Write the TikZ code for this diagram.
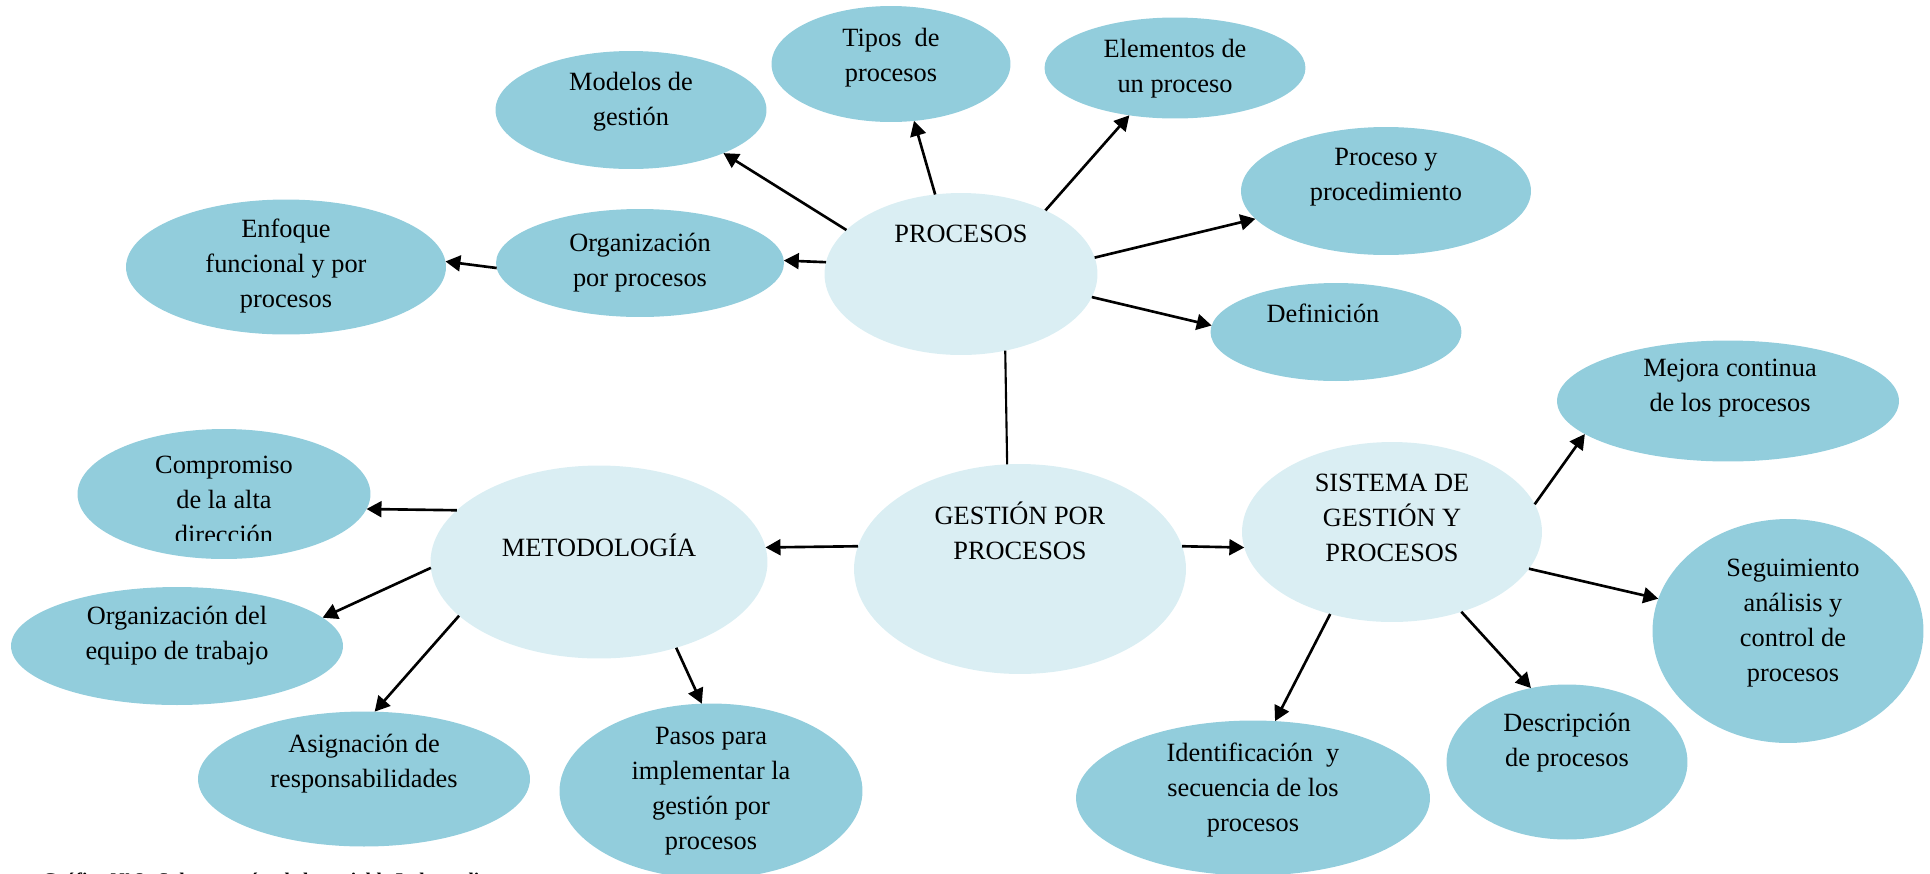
\documentclass[tikz,border=0pt]{standalone}
\usepackage{fontspec}
\setmainfont{Liberation Serif}
\usetikzlibrary{shapes.geometric, arrows.meta}
\definecolor{aqua}{HTML}{92CDDC}
\definecolor{paleaqua}{HTML}{DAEEF3}
\tikzset{
	bubble/.style={ellipse, fill=aqua, inner sep=0pt, outer sep=0pt},
	core/.style={ellipse, fill=paleaqua, inner sep=0pt, outer sep=0pt},
	txt/.style={align=center, inner sep=0pt, font=\fontsize{15}{20}\selectfont},
	link/.style={-{Triangle[length=8.5pt,width=9pt]}, line width=1.5pt}
}
\begin{document}
\begin{tikzpicture}[x=0.02cm, y=-0.02cm]
		\useasboundingbox (0,0) rectangle (1930,873);
		\node[bubble, minimum width=5.42cm, minimum height=2.36cm] (mod) at (631,110) {};
		\node[txt] (mod-t) at (631,102) {Modelos de\\gestión};
		\node[bubble, minimum width=4.78cm, minimum height=2.32cm] (tipos) at (891,64) {};
		\node[txt] (tipos-t) at (891,58) {Tipos\ \ de\\procesos};
		\node[bubble, minimum width=5.22cm, minimum height=2.02cm] (elem) at (1175,68) {};
		\node[txt] (elem-t) at (1175,69) {Elementos de\\un proceso};
		\node[bubble, minimum width=5.80cm, minimum height=2.56cm] (pyp) at (1386,191) {};
		\node[txt] (pyp-t) at (1386,177) {Proceso y\\procedimiento};
		\node[bubble, minimum width=5.02cm, minimum height=1.96cm] (def) at (1336,332) {};
		\node[txt] (def-t) at (1323,313) {Definición};
		\node[core, minimum width=5.46cm, minimum height=3.24cm] (proc) at (961,274) {};
		\node[txt] (proc-t) at (961,234) {PROCESOS};
		\node[bubble, minimum width=5.76cm, minimum height=2.16cm] (orgp) at (640,263) {};
		\node[txt] (orgp-t) at (640,263) {Organización\\por procesos};
		\node[bubble, minimum width=6.40cm, minimum height=2.70cm] (enf) at (286,267) {};
		\node[txt] (enf-t) at (286,266) {Enfoque\\funcional y por\\procesos};
		\node[core, minimum width=6.64cm, minimum height=4.20cm] (gest) at (1020,569) {};
		\node[txt] (gest-t) at (1020,531) {GESTIÓN POR\\PROCESOS};
		\node[core, minimum width=6.74cm, minimum height=3.86cm] (met) at (599,562) {};
		\node[txt] (met-t) at (599,545) {METODOLOGÍA};
		\node[bubble, minimum width=5.86cm, minimum height=2.60cm] (comp) at (224,494) {};
		\begin{scope}
			\clip (0,0) rectangle (1930,540);
			\node[txt] (comp-t) at (224,500) {Compromiso\\de la alta\\dirección};
		\end{scope}
		\node[bubble, minimum width=6.64cm, minimum height=2.36cm] (equipo) at (177,646) {};
		\node[txt] (equipo-t) at (177,636) {Organización del\\equipo de trabajo};
		\node[bubble, minimum width=6.64cm, minimum height=2.70cm] (asig) at (364,779) {};
		\node[txt] (asig-t) at (364,764) {Asignación de\\responsabilidades};
		\node[bubble, minimum width=6.06cm, minimum height=3.50cm] (pasos) at (711,791) {};
		\node[txt] (pasos-t) at (711,791) {Pasos para\\implementar la\\gestión por\\procesos};
		\node[core, minimum width=6.00cm, minimum height=3.60cm] (sist) at (1392,532) {};
		\node[txt] (sist-t) at (1392,518) {SISTEMA DE\\GESTIÓN Y\\PROCESOS};
		\node[bubble, minimum width=6.84cm, minimum height=2.42cm] (mejora) at (1728,401) {};
		\node[txt] (mejora-t) at (1730,388) {Mejora continua\\de los procesos};
		\node[bubble, minimum width=5.42cm, minimum height=4.48cm] (seg) at (1788,631) {};
		\node[txt] (seg-t) at (1793,623) {Seguimiento\\análisis y\\control de\\procesos};
		\node[bubble, minimum width=4.82cm, minimum height=3.10cm] (desc) at (1567,762) {};
		\node[txt] (desc-t) at (1567,743) {Descripción\\de procesos};
		\node[bubble, minimum width=7.08cm, minimum height=3.10cm] (ident) at (1253,798) {};
		\node[txt] (ident-t) at (1253,790) {Identificación\ \ y\\secuencia de los\\procesos};
		\foreach \a/\b in {proc.159/mod.335, proc.108/tipos.292, proc.37/elem.226, proc.7/pyp.192,
			proc.350/def.177, proc.175/orgp.1, orgp.182/enf.2, gest.172/met.5, gest.8/sist.186,
			met.160/comp.354, met.182/equipo.11, met.201/asig.81, met.312/pasos.96,
			sist.11/mejora.193, sist.345/seg.166, sist.311/desc.116, sist.233/ident.74} {
			\draw[link] (\a) -- (\b);
		}
		\draw[line width=1.2pt] (gest.97) -- (proc.300);
		\node[anchor=base west, inner sep=0pt, font=\fontsize{11}{13}\selectfont\bfseries] (cap) at (42,886) {Gráfico Nº 2: Subcategorías de la variable Independiente};
	\end{tikzpicture}
\end{document}
